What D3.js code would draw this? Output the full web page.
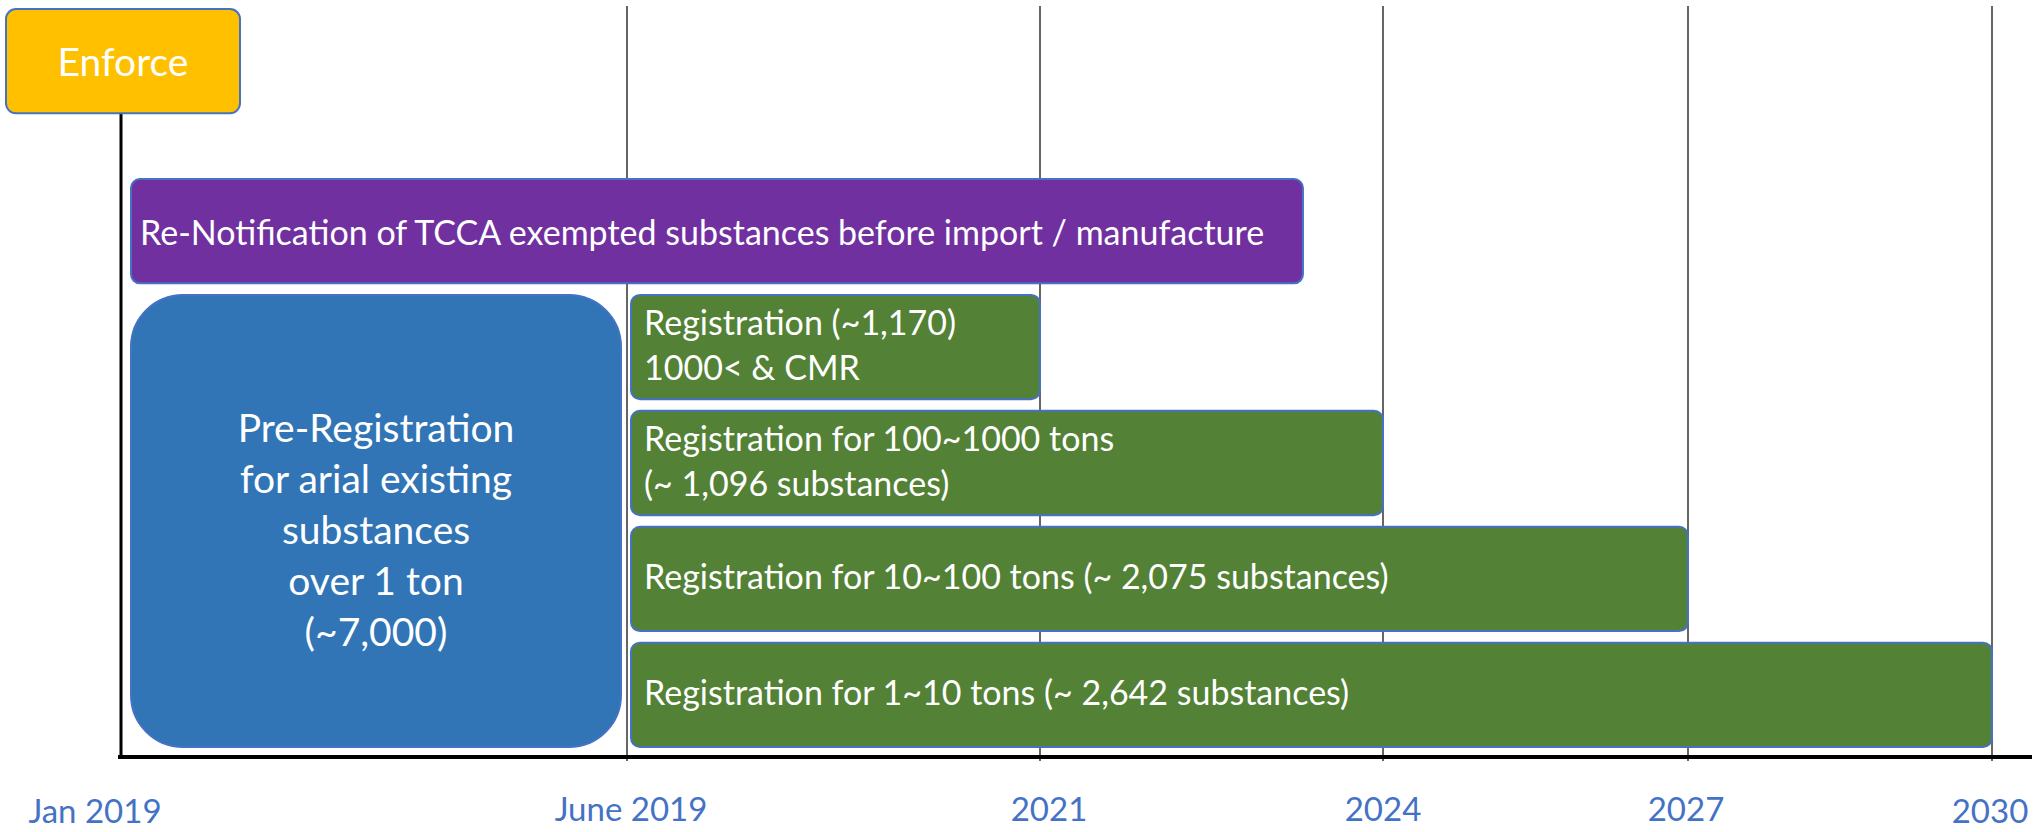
<!DOCTYPE html>
<html>
<head>
<meta charset="utf-8">
<script src="https://cdn.jsdelivr.net/npm/d3@7"></script>
<style>
  body { margin: 0; background: #fff; }
  svg { display: block; font-family: Lato, "Open Sans", sans-serif; }
</style>
</head>
<body>
<svg id="chart" width="2036" height="832"></svg>
<script>
// timeline ticks
var tickLabels = ["Jan 2019", "June 2019", "2021", "2024", "2027", "2030"];
var tickValues = [2019.0, 2019.42, 2021, 2024, 2027, 2030];

// enforcement marker
var enforceLabel = "Enforce";
var enforceDate = 2019.0;

// phases
var phaseTypes = ["notice", "pre", "reg", "reg", "reg", "reg"];
var phaseStart = [2019.0, 2019.0, 2019.42, 2019.42, 2019.42, 2019.42];
var phaseEnd = [2023.3, 2019.42, 2021, 2024, 2027, 2030];
var phaseRowFrom = [0, 1, 1, 2, 3, 4];
var phaseRowTo = [0, 4, 1, 2, 3, 4];
var phaseText = [
	["Re-Notification of TCCA exempted substances before import / manufacture"],
	["Pre-Registration", "for arial existing", "substances", "over 1 ton", "(~7,000)"],
	["Registration (~1,170)", "1000< & CMR"],
	["Registration for 100~1000 tons", "(~ 1,096 substances)"],
	["Registration for 10~100 tons (~ 2,075 substances)"],
	["Registration for 1~10 tons (~ 2,642 substances)"]
];
var rows = [0, 1, 2, 3, 4];

// look per phase type
var look = {
	notice: {fill: "#7030A0", r: 9, size: 34, align: "left", pad: 9, lh: 45, dy: 0, insL: 10, insR: 0},
	pre: {fill: "#3175B7", r: 52, size: 39, align: "middle", pad: 0, lh: 51, dy: 8, insL: 10, insR: 6},
	reg: {fill: "#538135", r: 9, size: 34, align: "left", pad: 13, lh: 45, dy: -3, insL: 4, insR: 0}
};

var svg = d3.select("#chart");

// the schematic timeline is not evenly spaced, so map each tick to its slot
var tickPx = [121, 627, 1040, 1383, 1688, 1992];
var x = d3.scaleLinear().domain(tickValues).range(tickPx);
var y = d3.scaleBand().domain(rows).range([179, 747]).paddingInner(0.1).paddingOuter(0);

var axisY = 757;

// vertical grid lines
svg.append("g").selectAll("line")
	.data(tickValues.slice(1))
	.join("line")
	.attr("x1", function(d){ return x(d); })
	.attr("x2", function(d){ return x(d); })
	.attr("y1", 6)
	.attr("y2", axisY + 4)
	.attr("stroke", "#333")
	.attr("stroke-width", 1.5);

// phase bars
var phases = phaseTypes.map(function(t, i){
	return {type: t, start: phaseStart[i], end: phaseEnd[i], r0: phaseRowFrom[i], r1: phaseRowTo[i], text: phaseText[i]};
});

var g = svg.append("g").selectAll("g")
	.data(phases)
	.join("g");

g.append("rect")
	.attr("x", function(d){ return x(d.start) + look[d.type].insL; })
	.attr("y", function(d){ return y(d.r0); })
	.attr("width", function(d){ return x(d.end) - x(d.start) - look[d.type].insL - look[d.type].insR; })
	.attr("height", function(d){ return y(d.r1) + y.bandwidth() - y(d.r0); })
	.attr("rx", function(d){ return look[d.type].r; })
	.attr("fill", function(d){ return look[d.type].fill; })
	.attr("stroke", "#4472C4")
	.attr("stroke-width", 2);

g.each(function(d){
	var s = look[d.type];
	var x0 = x(d.start) + s.insL;
	var x1 = x(d.end) - s.insR;
	var cy = (y(d.r0) + y(d.r1) + y.bandwidth()) / 2;
	var n = d.text.length;
	d3.select(this).selectAll("text")
		.data(d.text)
		.join("text")
		.attr("x", s.align === "middle" ? (x0 + x1) / 2 : x0 + s.pad)
		.attr("y", function(t, i){ return cy + (i - (n - 1) / 2) * s.lh + s.dy; })
		.attr("text-anchor", s.align === "middle" ? "middle" : "start")
		.attr("dominant-baseline", "central")
		.attr("fill", "#fff")
		.attr("font-size", s.size)
		.text(function(t){ return t; });
});

// enforcement marker
var ex = x(enforceDate);
svg.append("line")
	.attr("x1", ex).attr("x2", ex)
	.attr("y1", 113).attr("y2", axisY)
	.attr("stroke", "#000")
	.attr("stroke-width", 3);

svg.append("rect")
	.attr("x", ex - 115)
	.attr("y", 9)
	.attr("width", 234)
	.attr("height", y.bandwidth())
	.attr("rx", 10)
	.attr("fill", "#FFC000")
	.attr("stroke", "#4472C4")
	.attr("stroke-width", 2);

svg.append("text")
	.attr("x", ex + 2)
	.attr("y", 61)
	.attr("text-anchor", "middle")
	.attr("dominant-baseline", "central")
	.attr("fill", "#fff")
	.attr("font-size", 39)
	.text(enforceLabel);

// base axis
svg.append("line")
	.attr("x1", 118).attr("x2", 2032)
	.attr("y1", axisY).attr("y2", axisY)
	.attr("stroke", "#000")
	.attr("stroke-width", 4);

// tick labels
var labelShift = [-26, 4, 9, 0, -2, -2];
svg.append("g").selectAll("text")
	.data(tickValues)
	.join("text")
	.attr("x", function(d, i){ return x(d) + labelShift[i]; })
	.attr("y", function(d, i){ return (i === 0 || i === 5) ? 810 : 808; })
	.attr("text-anchor", "middle")
	.attr("dominant-baseline", "central")
	.attr("fill", "#4472C4")
	.attr("font-size", 33)
	.text(function(d, i){ return tickLabels[i]; });
</script>
</body>
</html>
